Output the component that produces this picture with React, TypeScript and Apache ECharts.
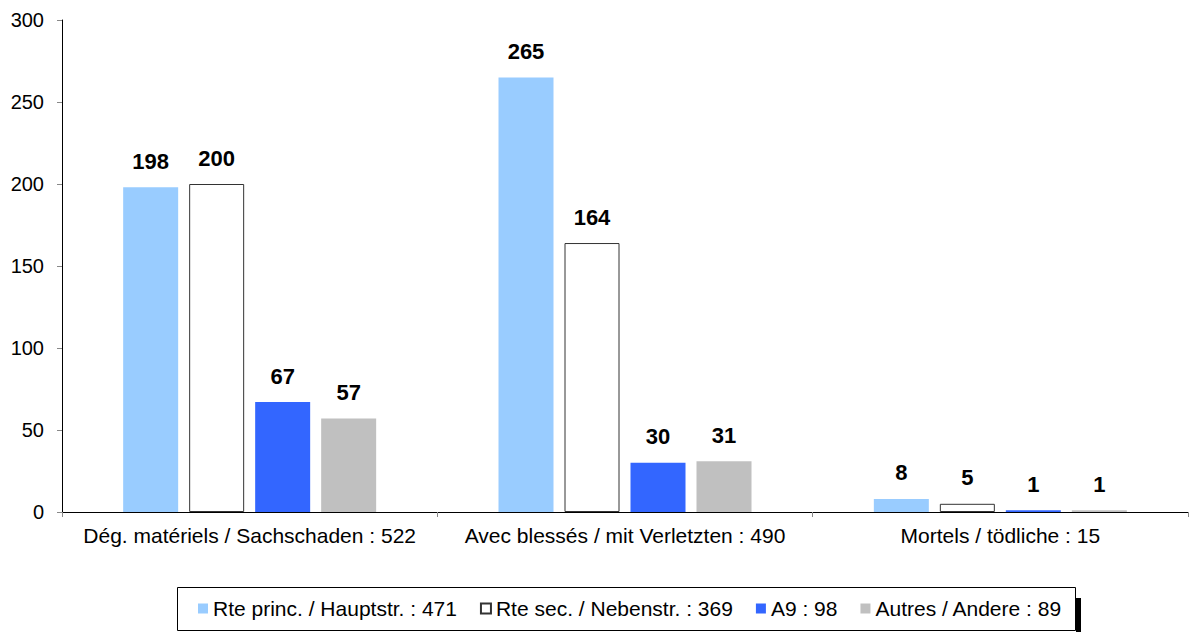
import React, { useEffect, useRef } from "react";
import * as echarts from "echarts";

const categories = [
  "Dég. matériels / Sachschaden : 522",
  "Avec blessés / mit Verletzten : 490",
  "Mortels / tödliche : 15",
];
const seriesNames = [
  "Rte princ. / Hauptstr. : 471",
  "Rte sec. / Nebenstr. : 369",
  "A9 : 98",
  "Autres / Andere : 89",
];
const rtePrinc = [198, 265, 8];
const rteSec = [200, 164, 5];
const a9 = [67, 30, 1];
const autres = [57, 31, 1];
const yTicks = [0, 50, 100, 150, 200, 250, 300];

const colors = ["#99CCFF", "#FFFFFF", "#3366FF", "#C0C0C0"];
const FONT = "'Liberation Sans', Arial, Helvetica, sans-serif";

export default function App() {
  const ref = useRef<HTMLDivElement>(null);
  useEffect(() => {
    if (!ref.current) return;
    const chart = echarts.init(ref.current, undefined, { renderer: "svg" });
    const values = [rtePrinc, rteSec, a9, autres];
    chart.setOption({
      animation: false,
      backgroundColor: "#FFFFFF",
      textStyle: { fontFamily: FONT },
      grid: { left: 62, right: 4, top: 20, bottom: 120 },
      legend: {
        left: 193,
        top: 598,
        padding: [0, 5],
        itemWidth: 10,
        itemHeight: 10,
        itemGap: 23,
        icon: "rect",
        textStyle: { fontSize: 21, color: "#000", fontFamily: FONT },
        data: seriesNames,
      },
      graphic: [
        {
          type: "rect",
          z: -1,
          shape: { x: 1076, y: 598, width: 5, height: 40 },
          style: { fill: "#000" },
        },
        {
          type: "rect",
          z: -1,
          shape: { x: 177.5, y: 587.5, width: 898, height: 43 },
          style: { fill: "#FFF", stroke: "#000", lineWidth: 1 },
        },
      ],
      xAxis: {
        type: "category",
        data: categories,
        axisLine: { lineStyle: { color: "#000", width: 1 } },
        axisTick: { show: true, alignWithLabel: false, length: 5, lineStyle: { color: "#888" } },
        axisLabel: { interval: 0, hideOverlap: false, fontSize: 21, color: "#000", margin: 13, fontFamily: FONT },
      },
      yAxis: {
        type: "value",
        min: yTicks[0],
        max: yTicks[yTicks.length - 1],
        interval: 50,
        splitLine: { show: false },
        axisLine: { show: true, lineStyle: { color: "#000", width: 1 } },
        axisTick: { show: true, length: 5, lineStyle: { color: "#888" } },
        axisLabel: { fontSize: 20, color: "#000", margin: 18, fontFamily: FONT },
      },
      series: seriesNames.map((name, i) => ({
        name,
        type: "bar",
        data: values[i],
        barWidth: 55,
        barGap: "20%",
        itemStyle: {
          color: colors[i],
          borderColor: i === 1 ? "#333" : colors[i],
          borderWidth: i === 1 ? 1 : 0,
        },
        label: {
          show: true,
          position: "top",
          distance: 15,
          fontSize: 22,
          fontWeight: "bold",
          color: "#000",
          fontFamily: FONT,
        },
      })),
    });
    return () => chart.dispose();
  }, []);
  return <div ref={ref} style={{ width: 1192, height: 632, position: "absolute", left: 0, top: 0 }} />;
}
